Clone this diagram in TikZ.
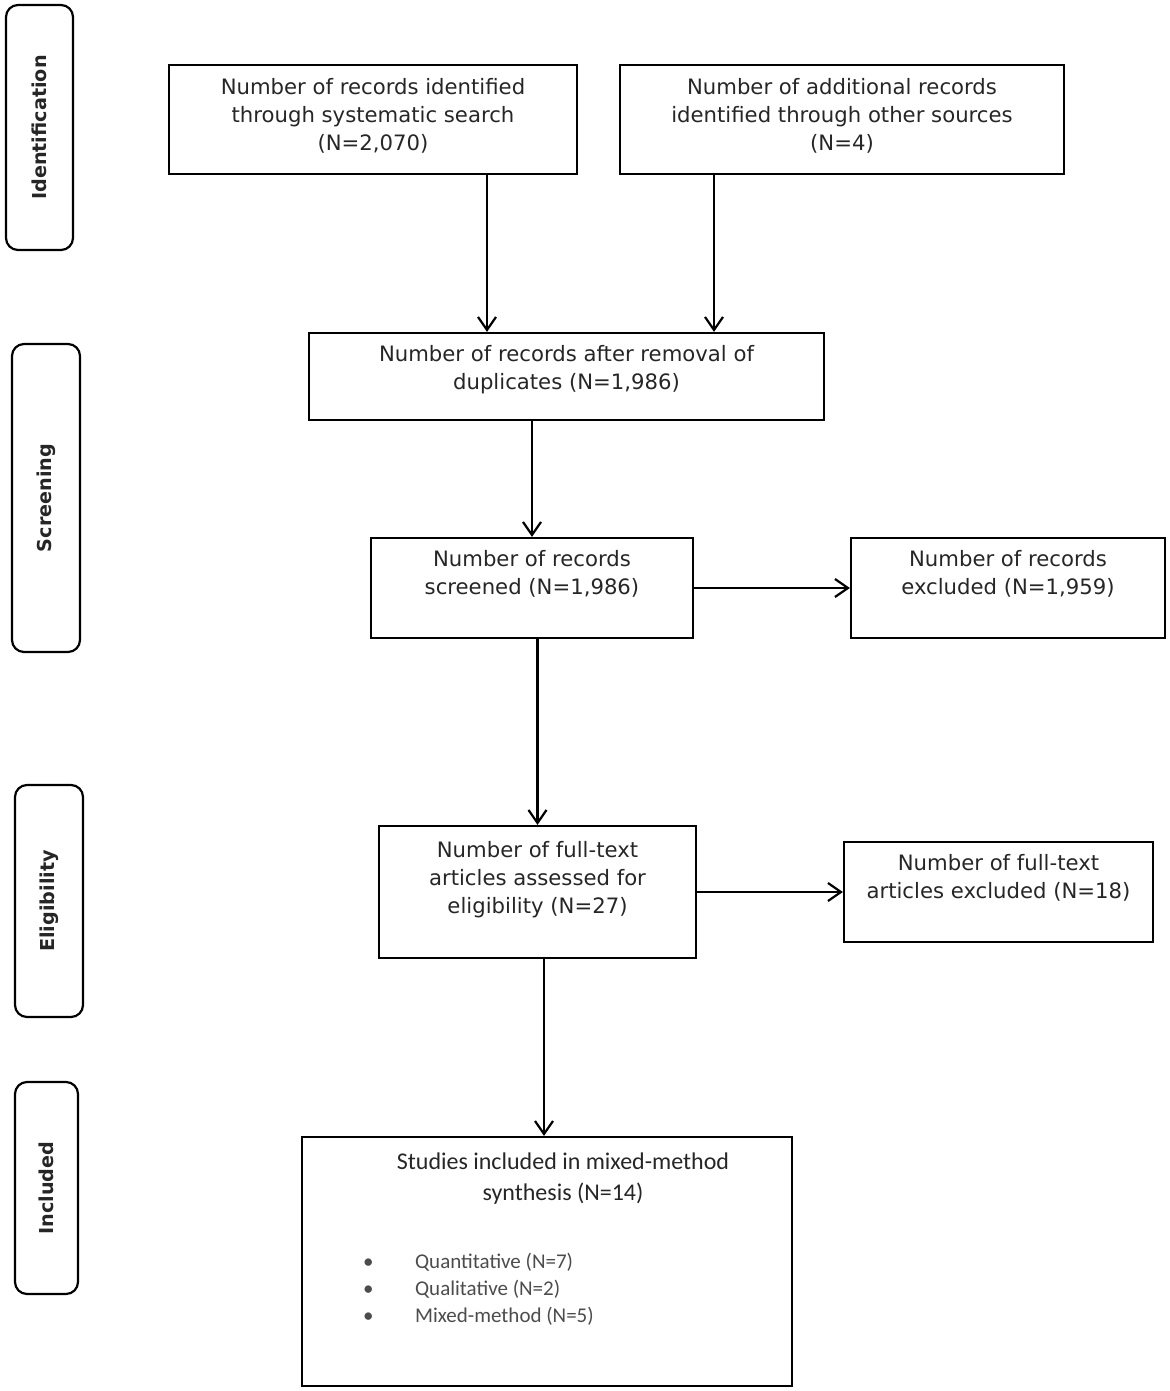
\documentclass[tikz,border=0pt]{standalone}
\usepackage{fontspec}
\setmainfont{DejaVu Sans}
\newfontfamily\calfont{Carlito}
\usetikzlibrary{arrows.meta,calc}

\begin{document}
\begin{tikzpicture}[x=0.5pt, y=-0.5pt,
    every node/.style={line width=1.1pt, inner sep=0pt, text=black!85},
    box/.style={draw, rectangle, align=center, font=\fontsize{10.6}{14}\selectfont},
    lift/.style={text depth=#1},
    phase/.style={draw, rounded corners=6pt, rotate=90, font=\bfseries\fontsize{9.6}{12}\selectfont},
    arr/.style={line width=1.1pt, -{Straight Barb[length=6.5pt, width=9pt, line width=1.1pt]}}]
  \useasboundingbox (0,0) rectangle (1170,1391);

  % phases down the left side
  \node[phase, minimum width=122.5pt, minimum height=33.5pt]
    (ident) at (39.5, 127.5) {Identification};
  \node[phase, minimum width=154pt, minimum height=34pt]
    (screen) at (46, 498) {Screening};
  \node[phase, minimum width=116pt, minimum height=34pt]
    (elig) at (49, 901) {Eligibility};
  \node[phase, minimum width=106pt, minimum height=31.5pt]
    (incl) at (46.5, 1188) {Included};

  % flow boxes
  \node[box, lift=5.4pt, minimum width=204pt, minimum height=54.5pt]
    (search) at (373, 119.5) {Number of records identified\\through systematic search\\(N=2,070)};

  \node[box, lift=5.4pt, minimum width=222pt, minimum height=54.5pt]
    (other) at (842, 119.5) {Number of additional records\\identified through other sources\\(N=4)};

  \node[box, lift=9.4pt, minimum width=257.5pt, minimum height=43.5pt]
    (dedup) at (566.5, 376.5) {Number of records after removal of\\duplicates (N=1,986)};

  \node[box, lift=15.4pt, minimum width=161pt, minimum height=50pt]
    (screened) at (532, 588) {Number of records\\screened (N=1,986)};

  \node[box, lift=15.4pt, minimum width=157pt, minimum height=50pt]
    (excl) at (1008, 588) {Number of records\\excluded (N=1,959)};

  \node[box, lift=14.4pt, minimum width=158.5pt, minimum height=66pt]
    (full) at (537.5, 892) {Number of full-text\\articles assessed for\\eligibility (N=27)};

  \node[box, lift=15.4pt, minimum width=154.5pt, minimum height=50pt]
    (fullexcl) at (998.5, 892) {Number of full-text\\articles excluded (N=18)};

  \node[draw, minimum width=245pt, minimum height=124.5pt]
    (synth) at (547, 1261.5) {};
  \node[align=center, font=\calfont\fontsize{12}{15.5}\selectfont]
    (synthhead) at (563, 1179) {Studies included in mixed-method\\synthesis (N=14)};
  \node[anchor=west, font=\calfont\fontsize{10.5}{13.5}\selectfont, text=black!70]
    (synthlist) at (362, 1290) {%
      \begin{tabular}{@{}p{26pt}@{}l@{}}
        \textbullet & Quantitative (N=7)\\
        \textbullet & Qualitative (N=2)\\
        \textbullet & Mixed-method (N=5)
      \end{tabular}};

  % connectors
  \draw[arr] ($(search.south)+(114,0)$) coordinate (s1) -- (s1 |- dedup.north);
  \draw[arr] ($(other.south)+(-128,0)$) coordinate (o1) -- (o1 |- dedup.north);
  \draw[arr] (dedup.south -| screened.north) -- (screened.north);
  \draw[arr] (screened.east) -- (excl.west);
  \draw[arr] (screened.south -| full.north) -- (full.north);
  \draw[arr] (full.east) -- (fullexcl.west);
  \draw[arr] ($(full.south)+(6.5,0)$) coordinate (f1) -- (f1 |- synth.north);
\end{tikzpicture}
\end{document}
